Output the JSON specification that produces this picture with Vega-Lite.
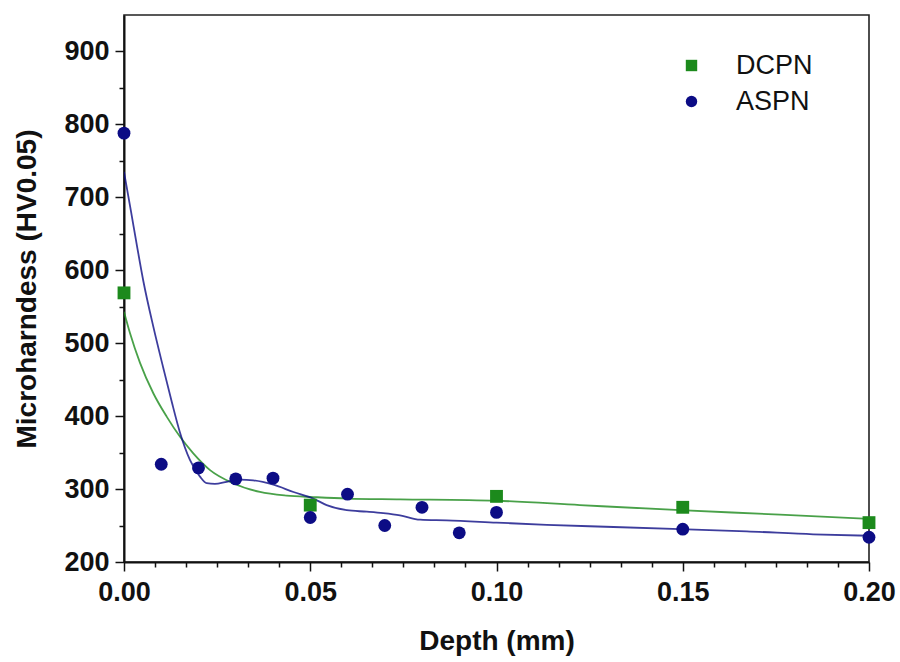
{
  "$schema": "https://vega.github.io/schema/vega-lite/v6.json",
  "autosize": {"type": "none"},
  "width": 745,
  "height": 547,
  "padding": {"left": 124, "top": 15, "right": 31, "bottom": 100},
  "background": "white",
  "config": {
    "view": {"stroke": "#222", "strokeWidth": 1.6},
    "font": "Liberation Sans"
  },
  "datasets": {
    "pts": [
      {"depth": 0.0, "hv": 569, "series": "DCPN"},
      {"depth": 0.05, "hv": 278, "series": "DCPN"},
      {"depth": 0.1, "hv": 290, "series": "DCPN"},
      {"depth": 0.15, "hv": 275, "series": "DCPN"},
      {"depth": 0.2, "hv": 254, "series": "DCPN"},
      {"depth": 0.0, "hv": 788, "series": "ASPN"},
      {"depth": 0.01, "hv": 334, "series": "ASPN"},
      {"depth": 0.02, "hv": 329, "series": "ASPN"},
      {"depth": 0.03, "hv": 314, "series": "ASPN"},
      {"depth": 0.04, "hv": 315, "series": "ASPN"},
      {"depth": 0.05, "hv": 261, "series": "ASPN"},
      {"depth": 0.06, "hv": 293, "series": "ASPN"},
      {"depth": 0.07, "hv": 250, "series": "ASPN"},
      {"depth": 0.08, "hv": 275, "series": "ASPN"},
      {"depth": 0.09, "hv": 240, "series": "ASPN"},
      {"depth": 0.1, "hv": 268, "series": "ASPN"},
      {"depth": 0.15, "hv": 245, "series": "ASPN"},
      {"depth": 0.2, "hv": 234, "series": "ASPN"}
    ],
    "curve": [
      {"depth": 0.0, "hv": 543, "series": "DCPN"},
      {"depth": 0.0016, "hv": 514, "series": "DCPN"},
      {"depth": 0.0043, "hv": 473, "series": "DCPN"},
      {"depth": 0.0079, "hv": 431, "series": "DCPN"},
      {"depth": 0.0115, "hv": 399, "series": "DCPN"},
      {"depth": 0.015, "hv": 372, "series": "DCPN"},
      {"depth": 0.0186, "hv": 349, "series": "DCPN"},
      {"depth": 0.0231, "hv": 326, "series": "DCPN"},
      {"depth": 0.0293, "hv": 308, "series": "DCPN"},
      {"depth": 0.0365, "hv": 296, "series": "DCPN"},
      {"depth": 0.0437, "hv": 291, "series": "DCPN"},
      {"depth": 0.0508, "hv": 289, "series": "DCPN"},
      {"depth": 0.0598, "hv": 287, "series": "DCPN"},
      {"depth": 0.0741, "hv": 286, "series": "DCPN"},
      {"depth": 0.1, "hv": 284, "series": "DCPN"},
      {"depth": 0.1224, "hv": 278, "series": "DCPN"},
      {"depth": 0.1493, "hv": 271, "series": "DCPN"},
      {"depth": 0.1761, "hv": 265, "series": "DCPN"},
      {"depth": 0.2, "hv": 259, "series": "DCPN"},
      {"depth": 0.0, "hv": 735, "series": "ASPN"},
      {"depth": 0.0019, "hv": 680, "series": "ASPN"},
      {"depth": 0.0036, "hv": 630, "series": "ASPN"},
      {"depth": 0.0052, "hv": 585, "series": "ASPN"},
      {"depth": 0.0079, "hv": 522, "series": "ASPN"},
      {"depth": 0.0106, "hv": 465, "series": "ASPN"},
      {"depth": 0.0128, "hv": 420, "series": "ASPN"},
      {"depth": 0.015, "hv": 378, "series": "ASPN"},
      {"depth": 0.0177, "hv": 340, "series": "ASPN"},
      {"depth": 0.0204, "hv": 317, "series": "ASPN"},
      {"depth": 0.0222, "hv": 308, "series": "ASPN"},
      {"depth": 0.0244, "hv": 307, "series": "ASPN"},
      {"depth": 0.0276, "hv": 310, "series": "ASPN"},
      {"depth": 0.0311, "hv": 313, "series": "ASPN"},
      {"depth": 0.0347, "hv": 312, "series": "ASPN"},
      {"depth": 0.0401, "hv": 306, "series": "ASPN"},
      {"depth": 0.0455, "hv": 296, "series": "ASPN"},
      {"depth": 0.0508, "hv": 287, "series": "ASPN"},
      {"depth": 0.0544, "hv": 278, "series": "ASPN"},
      {"depth": 0.0598, "hv": 271, "series": "ASPN"},
      {"depth": 0.0652, "hv": 269, "series": "ASPN"},
      {"depth": 0.0696, "hv": 267, "series": "ASPN"},
      {"depth": 0.0741, "hv": 264, "series": "ASPN"},
      {"depth": 0.0795, "hv": 258, "series": "ASPN"},
      {"depth": 0.0866, "hv": 257, "series": "ASPN"},
      {"depth": 0.1, "hv": 254, "series": "ASPN"},
      {"depth": 0.1135, "hv": 251, "series": "ASPN"},
      {"depth": 0.1314, "hv": 248, "series": "ASPN"},
      {"depth": 0.1493, "hv": 245, "series": "ASPN"},
      {"depth": 0.1672, "hv": 242, "series": "ASPN"},
      {"depth": 0.185, "hv": 238, "series": "ASPN"},
      {"depth": 0.2, "hv": 236, "series": "ASPN"}
    ]
  },
  "encoding": {
    "x": {
      "field": "depth", "type": "quantitative",
      "scale": {"domain": [0, 0.2], "nice": false, "zero": false},
      "axis": {
        "title": "Depth (mm)",
        "values": [0, 0.0083333, 0.0166667, 0.025, 0.0333333, 0.0416667, 0.05, 0.0583333, 0.0666667, 0.075, 0.0833333, 0.0916667, 0.1, 0.1083333, 0.1166667, 0.125, 0.1333333, 0.1416667, 0.15, 0.1583333, 0.1666667, 0.175, 0.1833333, 0.1916667, 0.2],
        "format": ".2f",
        "labelExpr": "abs(round(datum.value*20) - datum.value*20) < 0.001 ? datum.label : ''",
        "tickSize": {"condition": {"test": "abs(round(datum.value*20) - datum.value*20) < 0.001", "value": 9}, "value": 5},
        "tickColor": "#111", "tickWidth": 1.5,
        "domainColor": "#111", "domainWidth": 2,
        "grid": false,
        "labelFont": "Liberation Sans", "labelFontWeight": "bold", "labelFontSize": 27, "labelColor": "#111",
        "labelPadding": 8, "labelOverlap": false, "labelFlush": false,
        "titleFont": "Liberation Sans", "titleFontWeight": "bold", "titleFontSize": 28, "titleColor": "#111",
        "titlePadding": 22
      }
    },
    "y": {
      "field": "hv", "type": "quantitative",
      "scale": {"domain": [200, 950], "nice": false, "zero": false},
      "axis": {
        "title": "Microharndess (HV0.05)",
        "values": [200, 250, 300, 350, 400, 450, 500, 550, 600, 650, 700, 750, 800, 850, 900],
        "labelExpr": "datum.value % 100 === 0 ? datum.label : ''",
        "tickSize": {"condition": {"test": "datum.value % 100 === 0", "value": 9}, "value": 5},
        "tickColor": "#111", "tickWidth": 1.5,
        "domainColor": "#111", "domainWidth": 2,
        "grid": false,
        "labelFont": "Liberation Sans", "labelFontWeight": "bold", "labelFontSize": 27, "labelColor": "#111",
        "labelPadding": 6, "labelOverlap": false, "labelFlush": false,
        "titleFont": "Liberation Sans", "titleFontWeight": "bold", "titleFontSize": 28, "titleColor": "#111",
        "titlePadding": 22
      }
    }
  },
  "layer": [
    {
      "data": {"name": "curve"},
      "mark": {"type": "line", "interpolate": "monotone", "strokeWidth": 1.8, "strokeOpacity": 0.8, "clip": true},
      "encoding": {
        "color": {
          "field": "series", "type": "nominal",
          "scale": {"domain": ["DCPN", "ASPN"], "range": ["#1c8a1c", "#0c0c85"]}
        }
      }
    },
    {
      "data": {"name": "pts"},
      "mark": {"type": "point", "filled": true, "opacity": 1, "size": 165, "clip": false},
      "encoding": {
        "color": {
          "field": "series", "type": "nominal",
          "scale": {"domain": ["DCPN", "ASPN"], "range": ["#1c8a1c", "#0c0c85"]},
          "legend": {
            "title": null, "orient": "none", "legendX": 554, "legendY": 37,
            "padding": 0, "labelFont": "Liberation Sans", "labelFontSize": 27,
            "labelColor": "#111", "labelOffset": 31, "rowPadding": 8,
            "symbolSize": 130, "symbolStrokeWidth": 0, "symbolOpacity": 1
          }
        },
        "shape": {
          "field": "series", "type": "nominal",
          "scale": {"domain": ["DCPN", "ASPN"], "range": ["square", "circle"]},
          "legend": {
            "title": null, "orient": "none", "legendX": 554, "legendY": 37,
            "padding": 0, "labelFont": "Liberation Sans", "labelFontSize": 27,
            "labelColor": "#111", "labelOffset": 31, "rowPadding": 8,
            "symbolSize": 130, "symbolStrokeWidth": 0, "symbolOpacity": 1
          }
        }
      }
    }
  ]
}
